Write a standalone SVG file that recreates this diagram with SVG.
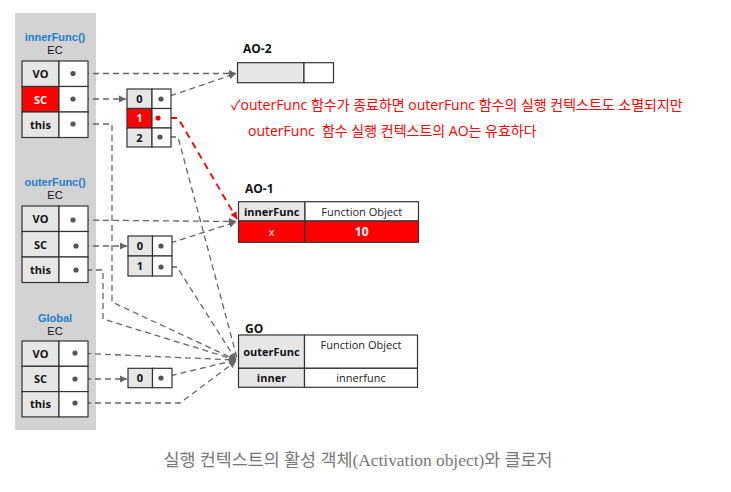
<svg xmlns="http://www.w3.org/2000/svg" width="731" height="492" viewBox="0 0 731 492">
<style>
.cell{stroke:#333;stroke-width:1.2}
.g{fill:#e6e6e6}
.w{fill:#fff}
.r{fill:#ff0000}
.lbl{font-family:"Open Sans","DejaVu Sans",sans-serif;font-weight:bold;font-size:11px;fill:#111;text-anchor:middle}
.lblw{font-family:"Open Sans","DejaVu Sans",sans-serif;font-weight:bold;font-size:11px;fill:#fff;text-anchor:middle}
.reg{font-family:"Open Sans","DejaVu Sans",sans-serif;font-size:11px;fill:#222;text-anchor:middle}
.title{font-family:"Liberation Sans",sans-serif;font-weight:bold;font-size:11px;fill:#1a7fd0;text-anchor:middle}
.ec{font-family:"Liberation Sans",sans-serif;font-size:11px;fill:#111;text-anchor:middle}
.ao{font-family:"Open Sans","DejaVu Sans",sans-serif;font-weight:bold;font-size:12px;fill:#111}
.note{font-family:"Open Sans","Noto Sans CJK KR",sans-serif;font-size:14px;fill:#ff0000}
.cap{font-family:"Liberation Serif","Noto Sans CJK KR",serif;font-size:17.4px;fill:#777;text-anchor:middle}
.dot{fill:#555}
.dotr{fill:#ff0000}
.ln{fill:none;stroke:#666;stroke-width:1.3;stroke-dasharray:6 4}
.lnr{fill:none;stroke:#ff0000;stroke-width:1.8;stroke-dasharray:7 5}
</style>
<defs>
<marker id="ag" markerWidth="8" markerHeight="8" refX="7" refY="4" orient="auto" markerUnits="userSpaceOnUse">
<path d="M0,0.5 L7,4 L0,7.5 z" fill="#666"/>
</marker>
<marker id="ar" markerWidth="8" markerHeight="8" refX="7" refY="4" orient="auto" markerUnits="userSpaceOnUse">
<path d="M0,0.5 L7,4 L0,7.5 z" fill="#ff0000"/>
</marker>
</defs>
<rect x="15" y="13" width="81" height="417" fill="#d3d3d3"/>

<g id="connectors">
<path class="ln" d="M73,73.5 H236" marker-end="url(#ag)"/>
<path class="ln" d="M161,99 L236,73.5" marker-end="url(#ag)"/>
<path class="ln" d="M73,99 H126" marker-end="url(#ag)"/>
<path class="ln" d="M160,137 H178 L237,358"/>
<path class="ln" d="M73,124 H112 V302 L236,360" marker-end="url(#ag)"/>
<path class="ln" d="M73,220 L236,221.5" marker-end="url(#ag)"/>
<path class="ln" d="M73,246 H127" marker-end="url(#ag)"/>
<path class="ln" d="M161,246 L236,222" marker-end="url(#ag)"/>
<path class="ln" d="M161,267 H177 L236,360" marker-end="url(#ag)"/>
<path class="ln" d="M76,270 H103 V319 L236,360" marker-end="url(#ag)"/>
<path class="ln" d="M75,353 L236,360" marker-end="url(#ag)"/>
<path class="ln" d="M75,379 H127" marker-end="url(#ag)"/>
<path class="ln" d="M161,378 L236,360" marker-end="url(#ag)"/>
<path class="ln" d="M75,403 H180 L236,361" marker-end="url(#ag)"/>
<path class="lnr" d="M158,118 H178 L237,219" marker-end="url(#ar)"/>
</g>

<g id="innerFunc-ec">
<text class="title" x="55" y="41">innerFunc()</text>
<text class="ec" x="55" y="54">EC</text>
<rect class="cell g" x="22" y="61" width="37" height="25.5"/>
<rect class="cell w" x="59" y="61" width="29" height="25.5"/>
<rect class="cell r" x="22" y="86.5" width="37" height="25.5"/>
<rect class="cell w" x="59" y="86.5" width="29" height="25.5"/>
<rect class="cell g" x="22" y="112" width="37" height="25.5"/>
<rect class="cell w" x="59" y="112" width="29" height="25.5"/>
<text class="lbl" x="40.5" y="78">VO</text>
<text class="lblw" x="40.5" y="103.5">SC</text>
<text class="lbl" x="40.5" y="129">this</text>
<circle class="dot" cx="73" cy="73.5" r="2.6"/>
<circle class="dot" cx="73" cy="99" r="2.6"/>
<circle class="dot" cx="73" cy="124" r="2.6"/>
</g>

<g id="innerFunc-sc">
<rect class="cell g" x="127" y="89" width="25" height="19.5"/>
<rect class="cell w" x="152" y="89" width="19" height="19.5"/>
<rect class="cell r" x="127" y="108.5" width="25" height="19.5"/>
<rect class="cell w" x="152" y="108.5" width="19" height="19.5"/>
<rect class="cell g" x="127" y="128" width="25" height="19"/>
<rect class="cell w" x="152" y="128" width="19" height="19"/>
<text class="lbl" x="139.5" y="103">0</text>
<text class="lblw" x="139.5" y="122">1</text>
<text class="lbl" x="139.5" y="141.5">2</text>
<circle class="dot" cx="161" cy="99" r="2.6"/>
<circle class="dotr" cx="158" cy="118" r="2.6"/>
<circle class="dot" cx="160" cy="137" r="2.6"/>
</g>

<g id="outerFunc-ec">
<text class="title" x="55" y="186">outerFunc()</text>
<text class="ec" x="55" y="199">EC</text>
<rect class="cell g" x="22" y="206" width="37" height="25.5"/>
<rect class="cell w" x="59" y="206" width="29" height="25.5"/>
<rect class="cell g" x="22" y="231.5" width="37" height="25.5"/>
<rect class="cell w" x="59" y="231.5" width="29" height="25.5"/>
<rect class="cell g" x="22" y="257" width="37" height="25.5"/>
<rect class="cell w" x="59" y="257" width="29" height="25.5"/>
<text class="lbl" x="40.5" y="223">VO</text>
<text class="lbl" x="40.5" y="248.5">SC</text>
<text class="lbl" x="40.5" y="274">this</text>
<circle class="dot" cx="73" cy="220" r="2.6"/>
<circle class="dot" cx="76" cy="246" r="2.6"/>
<circle class="dot" cx="76" cy="270" r="2.6"/>
</g>

<g id="outerFunc-sc">
<rect class="cell g" x="128" y="236" width="24.5" height="20"/>
<rect class="cell w" x="152.5" y="236" width="19.5" height="20"/>
<rect class="cell g" x="128" y="256" width="24.5" height="20"/>
<rect class="cell w" x="152.5" y="256" width="19.5" height="20"/>
<text class="lbl" x="140" y="250">0</text>
<text class="lbl" x="140" y="270">1</text>
<circle class="dot" cx="161" cy="246" r="2.6"/>
<circle class="dot" cx="161" cy="267" r="2.6"/>
</g>

<g id="global-ec">
<text class="title" x="55" y="322">Global</text>
<text class="ec" x="55" y="335">EC</text>
<rect class="cell g" x="22" y="341" width="37" height="25.3"/>
<rect class="cell w" x="59" y="341" width="29" height="25.3"/>
<rect class="cell g" x="22" y="366.3" width="37" height="25.3"/>
<rect class="cell w" x="59" y="366.3" width="29" height="25.3"/>
<rect class="cell g" x="22" y="391.6" width="37" height="25.3"/>
<rect class="cell w" x="59" y="391.6" width="29" height="25.3"/>
<text class="lbl" x="40.5" y="357.5">VO</text>
<text class="lbl" x="40.5" y="383">SC</text>
<text class="lbl" x="40.5" y="408">this</text>
<circle class="dot" cx="75" cy="353" r="2.6"/>
<circle class="dot" cx="75" cy="379" r="2.6"/>
<circle class="dot" cx="75" cy="403" r="2.6"/>
</g>

<g id="global-sc">
<rect class="cell g" x="128" y="368.3" width="24.5" height="19.4"/>
<rect class="cell w" x="152.5" y="368.3" width="19.5" height="19.4"/>
<text class="lbl" x="140" y="382">0</text>
<circle class="dot" cx="161" cy="378" r="2.6"/>
</g>

<g id="ao-2">
<text class="ao" x="243" y="53">AO-2</text>
<rect class="cell g" x="237.5" y="62.7" width="66.5" height="20"/>
<rect class="cell w" x="304" y="62.7" width="29.5" height="20"/>
</g>

<g id="ao-1">
<text class="ao" x="245" y="193">AO-1</text>
<rect class="cell g" x="238.5" y="201.7" width="66.5" height="19.3"/>
<rect class="cell w" x="305" y="201.7" width="113.5" height="19.3"/>
<rect class="cell r" x="238.5" y="221" width="66.5" height="21.3"/>
<rect class="cell r" x="305" y="221" width="113.5" height="21.3"/>
<text class="lbl" x="271.7" y="215.5">innerFunc</text>
<text class="reg" x="361.7" y="215.5">Function Object</text>
<text class="lblw" x="271.7" y="235.5" style="font-weight:normal">x</text>
<text class="lblw" x="361.7" y="236" style="font-size:12px">10</text>
</g>

<g id="go">
<text class="ao" x="245" y="333">GO</text>
<rect class="cell g" x="238.5" y="335" width="66" height="33.3"/>
<rect class="cell w" x="304.5" y="335" width="113" height="33.3"/>
<rect class="cell g" x="238.5" y="368.3" width="66" height="19"/>
<rect class="cell w" x="304.5" y="368.3" width="113" height="19"/>
<text class="lbl" x="271.5" y="356">outerFunc</text>
<text class="reg" x="361" y="349">Function Object</text>
<text class="lbl" x="271.5" y="382">inner</text>
<text class="reg" x="361" y="382">innerfunc</text>
</g>

<g id="note">
<text class="note" x="231" y="110">✓outerFunc 함수가 종료하면 outerFunc 함수의 실행 컨텍스트도 소멸되지만</text>
<text class="note" x="248" y="136" xml:space="preserve">outerFunc  함수 실행 컨텍스트의 AO는 유효하다</text>
</g>

<text class="cap" x="358" y="466">실행 컨텍스트의 활성 객체(Activation object)와 클로저</text>
</svg>
